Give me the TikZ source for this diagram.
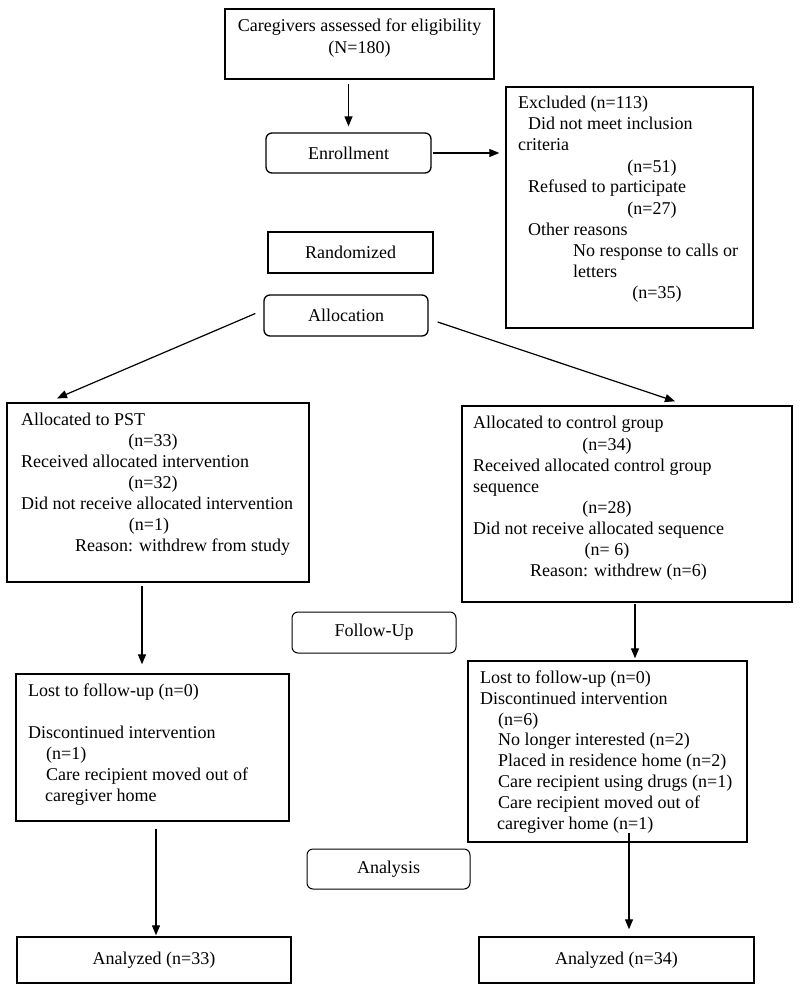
\documentclass[tikz,border=0pt]{standalone}
\usepackage{fontspec}
\setmainfont{Liberation Serif}
\usetikzlibrary{arrows.meta,calc}
\begin{document}
\begin{tikzpicture}[x=1pt,y=-1pt,
  box/.style={draw,line width=1.4pt,inner sep=0pt},
  rbox/.style={draw,line width=1.3pt,rounded corners=6pt,inner sep=0pt,font=\fontsize{18}{21}\selectfont},
  txt/.style={inner sep=0pt,font=\fontsize{18}{21}\selectfont,text height=12pt,text depth=4pt},
  lt/.style={txt,anchor=west},
  ct/.style={txt,anchor=center},
  arr/.style={line width=1.2pt,-{Triangle[length=10pt,width=8pt]}}]
\useasboundingbox (0,0) rectangle (800,995);
\fill[white] (0,0) rectangle (800,995);
% boxes
\node[box,minimum width=269pt,minimum height=70pt] (top) at (359.5,44) {};
\node[rbox,minimum width=165pt,minimum height=40pt] (enroll) at (348.5,153) {Enrollment};
\node[box,minimum width=247pt,minimum height=241pt] (excl) at (629.5,207.5) {};
\node[box,minimum width=165pt,minimum height=41pt,font=\fontsize{18}{21}\selectfont] (rand) at (350.5,252.5) {Randomized};
\node[rbox,minimum width=164pt,minimum height=41pt] (alloc) at (346,315.5) {Allocation};
\node[box,minimum width=302pt,minimum height=179pt] (pst) at (158,492.5) {};
\node[box,minimum width=330pt,minimum height=196pt] (ctrl) at (627,504) {};
\node[rbox,line width=1pt,minimum width=164pt,minimum height=41pt] (follow) at (374,632.5) {Follow-Up};
\node[box,minimum width=273pt,minimum height=147pt] (lostL) at (152.5,747.5) {};
\node[box,minimum width=279pt,minimum height=181pt] (lostR) at (607.5,751.5) {};
\node[rbox,line width=1pt,minimum width=163pt,minimum height=40pt] (analysis) at (388.5,869) {Analysis};
\node[box,minimum width=274pt,minimum height=46pt,font=\fontsize{18}{21}\selectfont] (anL) at (154,960) {Analyzed (n=33)};
\node[box,minimum width=275pt,minimum height=46pt,font=\fontsize{18}{21}\selectfont] (anR) at (616.5,960) {Analyzed (n=34)};
% top texts
\node[ct] (t1) at (359.5,28) {Caregivers assessed for eligibility};
\node[ct] (t2) at (359.5,50) {(N=180)};
% excluded texts
\node[lt] (e1) at (518,105) {Excluded (n=113)};
\node[lt] (e2) at (528,126) {Did not meet inclusion};
\node[lt] (e3) at (518,147) {criteria};
\node[ct] (e4) at (652,168) {(n=51)};
\node[lt] (e5) at (528,189) {Refused to participate};
\node[ct] (e6) at (652,210) {(n=27)};
\node[lt] (e7) at (528,231) {Other reasons};
\node[lt] (e8) at (573,252) {No response to calls or};
\node[lt] (e9) at (573,273) {letters};
\node[ct] (e10) at (657,294) {(n=35)};
% PST texts
\node[lt] (p1) at (21,421) {Allocated to PST};
\node[ct] (p2) at (153,442) {(n=33)};
\node[lt] (p3) at (21,463) {Received allocated intervention};
\node[ct] (p4) at (153,484) {(n=32)};
\node[lt] (p5) at (21,505) {Did not receive allocated intervention};
\node[ct] (p6) at (149,526) {(n=1)};
\node[lt] (p7) at (75,547) {Reason: withdrew from study};
% control texts
\node[lt] (c1) at (473,424) {Allocated to control group};
\node[ct] (c2) at (607,446) {(n=34)};
\node[lt] (c3) at (473,467) {Received allocated control group};
\node[lt] (c4) at (473,488) {sequence};
\node[ct] (c5) at (607,509) {(n=28)};
\node[lt] (c6) at (473,530) {Did not receive allocated sequence};
\node[ct] (c7) at (607,551) {(n= 6)};
\node[lt] (c8) at (530,572) {Reason: withdrew (n=6)};
% lost left
\node[lt] (l1) at (28,692) {Lost to follow-up (n=0)};
\node[lt] (l2) at (28,734) {Discontinued intervention};
\node[lt] (l3) at (46,755) {(n=1)};
\node[lt] (l4) at (46,776) {Care recipient moved out of};
\node[lt] (l5) at (45,797) {caregiver home};
% lost right
\node[lt] (r1) at (480,679) {Lost to follow-up (n=0)};
\node[lt] (r2) at (480,700) {Discontinued intervention};
\node[lt] (r3) at (498,721) {(n=6)};
\node[lt] (r4) at (498,741) {No longer interested (n=2)};
\node[lt] (r5) at (498,762) {Placed in residence home (n=2)};
\node[lt] (r6) at (498,783) {Care recipient using drugs (n=1)};
\node[lt] (r7) at (498,804) {Care recipient moved out of};
\node[lt] (r8) at (497,825) {caregiver home (n=1)};
% connectors
\draw[arr,shorten <=4pt,shorten >=6pt] (enroll.north |- top.south) -- (enroll.north);
\draw[arr,shorten <=1pt,shorten >=6pt] (enroll.east) -- (enroll.east -| excl.west);
\draw[arr] ($(alloc.west)+(-8,-2)$) -- ($(pst.north)+(-101,-4)$);
\draw[arr] ($(alloc.east)+(9,6.5)$) -- ($(ctrl.north)+(48,-4)$);
\draw[arr] ($(pst.south)+(-16,3)$) -- ($(lostL.north)+(-10.5,-9)$);
\draw[arr] ($(ctrl.south)+(8,1)$) -- ($(lostR.north)+(27.5,-2)$);
\draw[arr] ($(lostL.south)+(3.5,7)$) -- ($(anL.north)+(2,-1)$);
\draw[arr] ($(lostR.south)+(21.5,-10)$) -- ($(anR.north)+(12.5,-7)$);
\end{tikzpicture}
\end{document}
